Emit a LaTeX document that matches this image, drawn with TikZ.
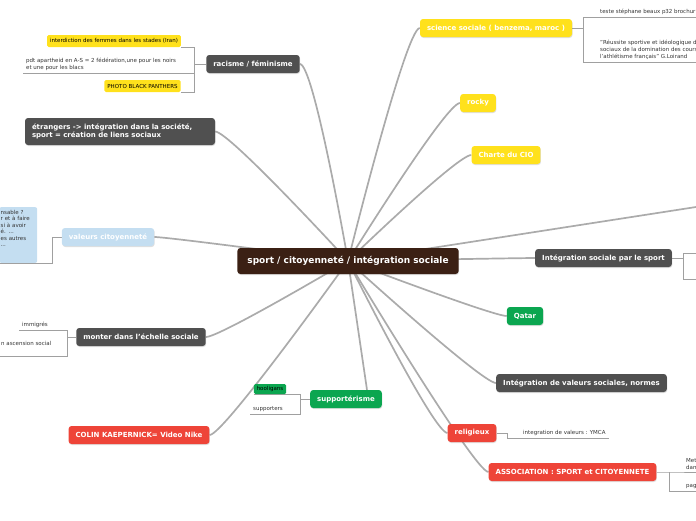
\documentclass[tikz,border=0pt]{standalone}
\usepackage{fontspec}
\setmainfont{DejaVu Sans}
\usepackage{xcolor}
\usetikzlibrary{positioning,backgrounds,shadows}

\definecolor{hubbrown}{HTML}{3B2014}
\definecolor{darktopic}{HTML}{505050}
\definecolor{yellowtopic}{HTML}{FFE11C}
\definecolor{bluetopic}{HTML}{C4DEF1}
\definecolor{greentopic}{HTML}{0BA650}
\definecolor{redtopic}{HTML}{EE4438}
\definecolor{linegray}{HTML}{ABABAB}
\definecolor{twiggray}{HTML}{A0A0A0}
\definecolor{leaftext}{HTML}{333333}

\begin{document}
\begin{tikzpicture}[
    x=1pt, y=-1pt,
    topic/.style={
        rounded corners=3pt,
        text=white,
        font=\fontsize{7}{8.5}\selectfont\bfseries,
        minimum height=18pt,
        inner xsep=7pt,
        inner ysep=2pt,
        drop shadow={opacity=0.25, shadow xshift=0.5pt, shadow yshift=-1pt}
    },
    hubnode/.style={topic, fill=hubbrown, font=\fontsize{9}{10}\selectfont\bfseries, minimum height=26pt, inner xsep=10pt},
    darkbox/.style={topic, fill=darktopic},
    yellowbox/.style={topic, fill=yellowtopic},
    bluebox/.style={topic, fill=bluetopic},
    greenbox/.style={topic, fill=greentopic},
    redbox/.style={topic, fill=redtopic},
    tag/.style={rounded corners=1.5pt, text=black, font=\fontsize{5.5}{6.5}\selectfont, minimum height=12pt, inner xsep=3pt, inner ysep=1pt},
    leaf/.style={text=leaftext, font=\fontsize{5.5}{7}\selectfont, align=left, inner xsep=3pt, inner ysep=2pt},
    note/.style={fill=bluetopic, rounded corners=2pt, text=leaftext, font=\fontsize{5.5}{6.5}\selectfont, align=left, text width=35pt, inner xsep=1.5pt, inner ysep=3pt},
    branch/.style={draw=linegray, line width=1.7pt},
    twig/.style={draw=twiggray, line width=0.8pt}
]
\useasboundingbox (0,0) rectangle (696,520);

\node[hubnode] (hub) at (348,261) {sport / citoyenneté / intégration sociale};

\node[darkbox] (racisme) at (253,64) {racisme / féminisme};
\node[darkbox, align=left, text width=176pt, minimum height=27pt] (etrangers) at (120,131.5) {étrangers -> intégration dans la société,\\sport = création de liens sociaux};
\node[bluebox] (valeurs) at (108,237) {valeurs citoyenneté};
\node[darkbox] (monter) at (141,337) {monter dans l'échelle sociale};
\node[redbox] (colin) at (139,435) {COLIN KAEPERNICK= Video Nike};
\node[greenbox] (supporterisme) at (346,399) {supportérisme};

\node[yellowbox] (science) at (496,28) {science sociale ( benzema, maroc )};
\node[yellowbox] (rocky) at (478,103) {rocky};
\node[yellowbox] (charte) at (506,155) {Charte du CIO};
\node[darkbox] (integsport) at (603.5,258) {Intégration sociale par le sport};
\node[greenbox] (qatar) at (525,316) {Qatar};
\node[darkbox] (valeurssoc) at (581.5,383) {Intégration de valeurs sociales, normes};
\node[redbox] (religieux) at (472,433) {religieux};
\node[redbox] (asso) at (572.5,472) {ASSOCIATION : SPORT et CITOYENNETE};

% racisme / feminisme
\coordinate (racismefork) at (194,64);
\node[tag, fill=yellowtopic] (iran) at (114,41) {interdiction des femmes dans les stades (Iran)};
\node[leaf, anchor=south west] (apartheid) at (23,73) {pdt apartheid en A-S = 2 fédération,une pour les noirs\\et une pour les blacs};
\node[tag, fill=yellowtopic] (panthers) at (142.5,86) {PHOTO BLACK PANTHERS};

% science sociale
\coordinate (sciencefork) at (583,28);
\node[leaf, anchor=south west] (stephane) at (597,17) {teste stéphane beaux p32 brochur};
\node[leaf, anchor=south west] (reussite) at (597,62) {"Réussite sportive et idéologique d\\sociaux de la domination des cours\\l'athlétisme français" G.Loirand};

% valeurs citoyennete
\coordinate (valeursfork) at (52,237);
\node[note, anchor=north west] (citoyen) at (-1,207) {nsable ?\\r et à faire\\si à avoir\\é. ...\\es autres\\...\\ \mbox{}\\ \mbox{}};

% monter dans l'echelle sociale
\coordinate (monterfork) at (67,337);
\node[leaf, anchor=south west] (immigres) at (19,330) {immigrés};
\node[leaf, anchor=south west, minimum height=24pt] (ascension) at (-2,356) {n ascension social};

% supporterisme
\coordinate (supportfork) at (300,399);
\node[tag, fill=greentopic, minimum height=10pt] (hooligans) at (270,389) {hooligans};
\node[leaf, anchor=south west] (supporters) at (250,414) {supporters};

% religieux, association, integration
\coordinate (religieuxfork) at (507,433);
\node[leaf, anchor=south west] (ymca) at (520,438) {integration de valeurs : YMCA};
\coordinate (assofork) at (669,472);
\node[leaf, anchor=south west] (metdan) at (683,472) {Met\\dan};
\node[leaf, anchor=south west] (pag) at (683,491) {pag};
\coordinate (integfork) at (683,258);
\coordinate (integup) at (696,253);
\coordinate (integdown) at (696,279);
\coordinate (offright) at (696,207);

\begin{scope}[on background layer]
\draw[branch] (hub.center) .. controls +(0,0) and +(14,0) .. (racisme.east);
\draw[branch] (hub.center) .. controls +(0,0) and +(14,0) .. (etrangers.east);
\draw[branch] (hub.center) .. controls +(0,0) and +(14,0) .. (valeurs.east);
\draw[branch] (hub.center) .. controls +(0,0) and +(14,0) .. (monter.east);
\draw[branch] (hub.center) .. controls +(0,0) and +(14,0) .. (colin.east);
\draw[branch] (hub.center) -- ([xshift=21pt]supporterisme.north);
\draw[branch] (hub.center) .. controls +(0,0) and +(-14,0) .. (science.west);
\draw[branch] (hub.center) .. controls +(0,0) and +(-14,0) .. (rocky.west);
\draw[branch] (hub.center) .. controls +(0,0) and +(-14,0) .. (charte.west);
\draw[branch] (hub.center) -- (offright);
\draw[branch] (hub.center) .. controls +(0,0) and +(-14,0) .. (integsport.west);
\draw[branch] (hub.center) .. controls +(0,0) and +(-14,0) .. (qatar.west);
\draw[branch] (hub.center) .. controls +(0,0) and +(-14,0) .. (valeurssoc.west);
\draw[branch] (hub.center) .. controls +(0,0) and +(-14,0) .. (religieux.west);
\draw[branch] (hub.center) .. controls +(0,0) and +(-14,0) .. (asso.west);

\draw[twig] (racisme.west) -- (racismefork);
\draw[twig] (iran.south east) -| (racismefork |- panthers.south east) -- (panthers.south east);
\draw[twig] (apartheid.south west) -- (apartheid.south west -| racismefork);
\draw[twig] (science.east) -- (sciencefork);
\draw[twig] (stephane.south east) -| (sciencefork |- reussite.south west) -- (reussite.south east);
\draw[twig] (valeurs.west) -- (valeursfork) |- (citoyen.south west);
\draw[twig] (monter.west) -- (monterfork);
\draw[twig] (immigres.south west) -| (monterfork |- ascension.south west) -- (ascension.south west);
\draw[twig] (supporterisme.west) -- (supportfork);
\draw[twig] (hooligans.south west) -| (supportfork |- supporters.south west) -- (supporters.south west);
\draw[twig] (religieux.east) -- (religieuxfork) |- (ymca.south east);
\draw[twig] (asso.east) -- (assofork) -- (metdan.south east);
\draw[twig] (assofork) |- (pag.south east);
\draw[twig] (integsport.east) -- (integfork);
\draw[twig] (integup) -| (integfork |- integdown) -- (integdown);
\end{scope}
\end{tikzpicture}
\end{document}
